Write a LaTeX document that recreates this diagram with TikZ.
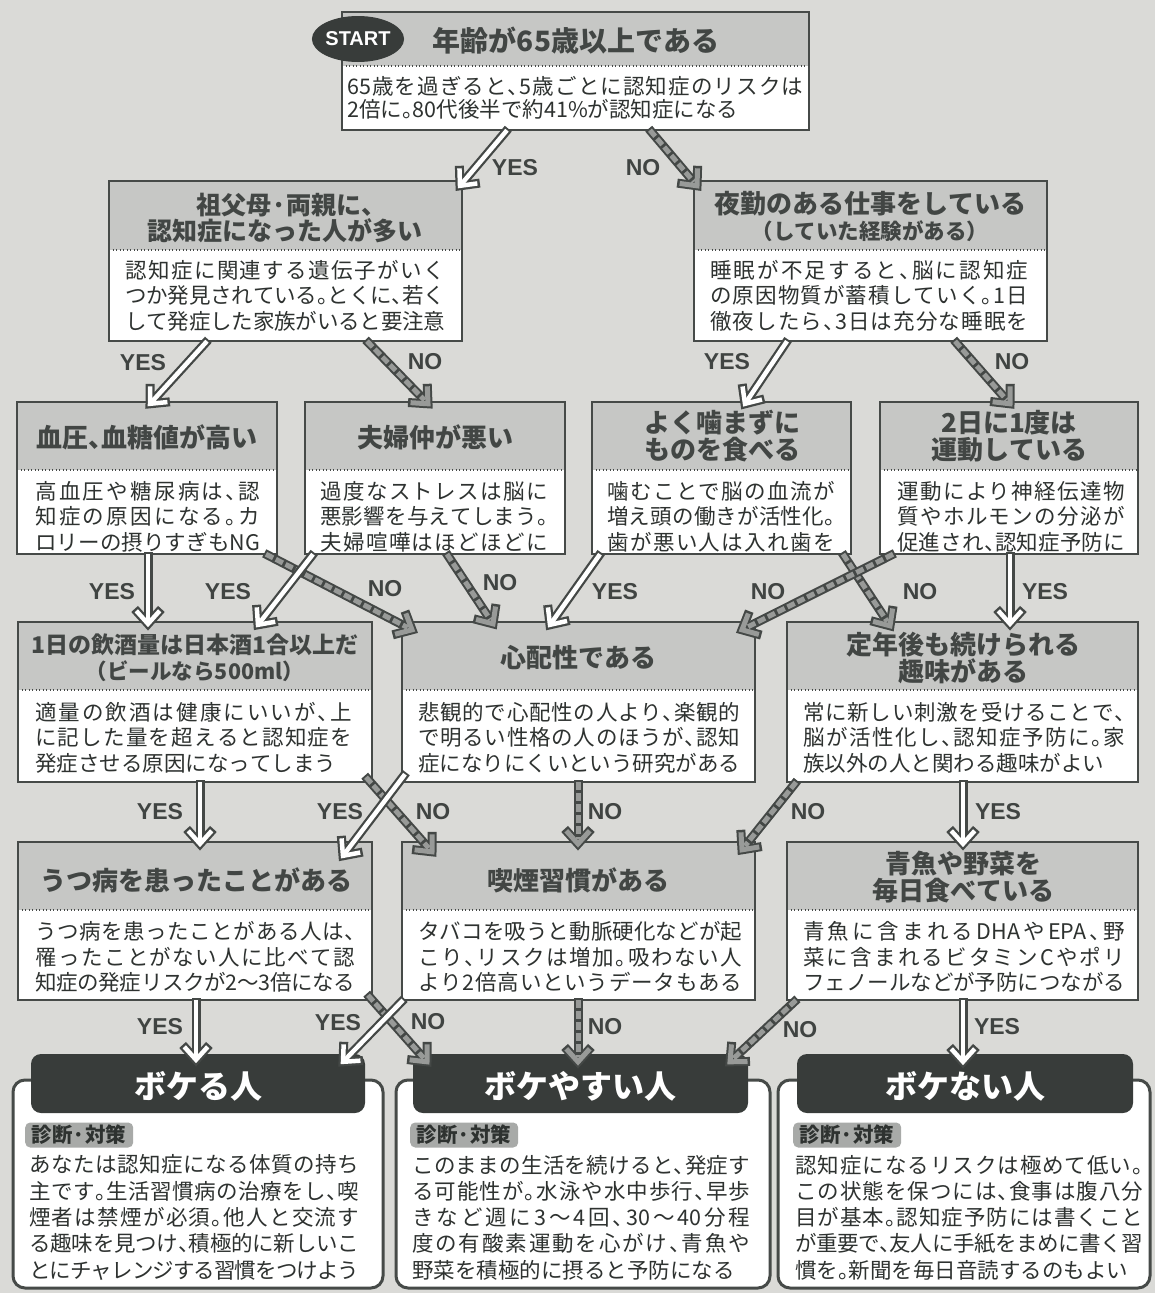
\documentclass[tikz,border=0pt]{standalone}
\usepackage{fontspec}
\usetikzlibrary{calc,fit,shapes.geometric}
\newfontfamily\jp{Noto Sans CJK JP}[RawFeature=+halt]
\newfontfamily\lat{Liberation Sans}
\definecolor{bgc}{RGB}{218,218,215}
\definecolor{hdrc}{RGB}{198,199,197}
\definecolor{inkc}{RGB}{46,50,48}
\definecolor{hdtxt}{RGB}{66,70,68}
\definecolor{framec}{RGB}{70,74,72}
\definecolor{arrdark}{RGB}{68,72,70}
\definecolor{nogray}{RGB}{152,154,152}
\definecolor{darkfill}{RGB}{56,60,58}
\definecolor{tagc}{RGB}{168,170,168}
\definecolor{lblc}{RGB}{64,68,66}
% inter-character glue for justified Japanese lines
\XeTeXinterchartokenstate=1
\newcount\jcnt
\jcnt="3000
\loop
  \XeTeXcharclass\jcnt=7
  \advance\jcnt by 1
\ifnum\jcnt<"3100 \repeat
\jcnt="4E00
\loop
  \XeTeXcharclass\jcnt=7
  \advance\jcnt by 1
\ifnum\jcnt<"A000 \repeat
\jcnt="FF00
\loop
  \XeTeXcharclass\jcnt=7
  \advance\jcnt by 1
\ifnum\jcnt<"FFF0 \repeat
\XeTeXinterchartoks 7 7 = {\hskip 0pt plus 4pt minus 1.5pt\relax}
\XeTeXinterchartoks 0 7 = {\hskip 0pt plus 4pt minus 1.5pt\relax}
\XeTeXinterchartoks 7 0 = {\hskip 0pt plus 4pt minus 1.5pt\relax}
\newcommand\jl[2]{\hbox to #1pt{#2}}
\newcommand\qbox[6]{%
  \node[fit={(#2,#3) (#4,#6)}, inner sep=0pt, fill=white] (#1) {};
  \fill[hdrc] (#2,#3) rectangle (#4,#5);
  \draw[sepline] (#2,#5) -- (#4,#5);
  \draw[qframe] (#1.north west) rectangle (#1.south east);
}
\newcommand\yesarr[3]{%
  \coordinate (#1s) at #2;
  \coordinate (#1e) at #3;
  \draw[arrout, shorten <=-2pt] (#1s) -- (#1e);
  \draw[arrout] ($(#1e)!20pt!42:(#1s)$) -- (#1e) -- ($(#1e)!20pt!-42:(#1s)$);
  \draw[yesin] (#1s) -- (#1e);
  \draw[yesin] ($(#1e)!17.5pt!42:(#1s)$) -- (#1e) -- ($(#1e)!17.5pt!-42:(#1s)$);
}
\newcommand\noarr[3]{%
  \coordinate (#1s) at #2;
  \coordinate (#1e) at #3;
  \draw[arrout, shorten <=-2pt] (#1s) -- (#1e);
  \draw[arrout] ($(#1e)!20pt!42:(#1s)$) -- (#1e) -- ($(#1e)!20pt!-42:(#1s)$);
  \draw[noin] (#1s) -- ($(#1e)!5pt!(#1s)$);
  \draw[nohead] ($(#1e)!17.5pt!42:(#1s)$) -- (#1e) -- ($(#1e)!17.5pt!-42:(#1s)$);
}
\begin{document}
\begin{tikzpicture}[x=1pt,y=-1pt,
  qframe/.style={draw=framec,line width=2.4pt},
  sepline/.style={draw=framec,line width=1.3pt,dash pattern=on 1.3pt off 2.2pt},
  body/.style={anchor=west,align=left,inner sep=0pt,text=inkc,font=\jp\fontsize{21.5}{25.5}\selectfont},
  tbody/.style={body,font=\jp\fontsize{21.5}{23.3}\selectfont},
  rbody/.style={body,font=\jp\fontsize{21.5}{26.3}\selectfont},
  hd/.style={align=center,inner sep=0pt,text=hdtxt,font=\jp\bfseries\fontsize{26}{26.5}\selectfont},
  hdsub/.style={hd,font=\jp\bfseries\fontsize{21.5}{21.5}\selectfont},
  lbl/.style={inner sep=0pt,text=lblc,font=\lat\bfseries\fontsize{23}{23}\selectfont},
  startnode/.style={ellipse,fill=darkfill,text=white,inner sep=0pt,minimum width=84pt,minimum height=46pt,font=\lat\bfseries\fontsize{20}{20}\selectfont},
  resframe/.style={draw=framec,line width=3pt,fill=white,rounded corners=12pt,inner sep=0pt},
  reshd/.style={fill=darkfill,rounded corners=10pt,inner sep=0pt},
  restxt/.style={inner sep=0pt,text=white,font=\jp\bfseries\fontsize{32}{32}\selectfont},
  restag/.style={fill=tagc,rounded corners=5pt,inner sep=0pt,minimum width=108pt,minimum height=25pt,anchor=west,text=inkc,font=\jp\bfseries\fontsize{20.5}{20.5}\selectfont},
  arrout/.style={draw=arrdark,line width=9pt,line join=miter},
  yesin/.style={draw=white,line width=4.5pt,line join=miter},
  noin/.style={draw=nogray,line width=5pt,dash pattern=on 8pt off 3pt},
  nohead/.style={draw=nogray,line width=5pt,line join=miter}
]
\useasboundingbox (0,0) rectangle (1155,1293);
\fill[bgc] (0,0) rectangle (1155,1293);

% ---------- top box
\qbox{q0}{342}{12}{809}{66}{130}
\node[startnode] (start) at (358,39) {START};
\node[hd,font=\jp\bfseries\fontsize{28}{28}\selectfont] (q0h) at (576,41) {年齢が65歳以上である};
\node[tbody] (q0b) at (347,97.5) {\jl{456}{65歳を過ぎると、5歳ごとに認知症のリスクは}\\2倍に。80代後半で約41\%が認知症になる};

% ---------- row 2
\qbox{q1}{109}{181}{462}{250}{341}
\node[hd,font=\jp\bfseries\fontsize{25}{26}\selectfont] (q1h) at (285,218) {祖父母·両親に、\\認知症になった人が多い};
\node[body] (q1b) at (125,295.5) {\jl{320}{認知症に関連する遺伝子がいく}\\\jl{320}{つか発見されている。とくに、若く}\\\jl{320}{して発症した家族がいると要注意}};

\qbox{q2}{694}{181}{1047}{250}{341}
\node[hd] (q2h) at (870,204) {夜勤のある仕事をしている};
\node[hdsub] (q2s) at (870,231) {（していた経験がある）};
\node[body] (q2b) at (710,295.5) {\jl{318}{睡眠が不足すると、脳に認知症}\\\jl{318}{の原因物質が蓄積していく。1日}\\\jl{318}{徹夜したら、3日は充分な睡眠を}};

% ---------- row 3
\qbox{q3}{17}{402}{277}{470}{554}
\node[hd] (q3h) at (147,437) {血圧、血糖値が高い};
\node[body] (q3b) at (35,516.5) {\jl{225}{高血圧や糖尿病は、認}\\\jl{225}{知症の原因になる。カ}\\\jl{225}{ロリーの摂りすぎもNG}};

\qbox{q4}{305}{402}{565}{470}{554}
\node[hd] (q4h) at (435,437) {夫婦仲が悪い};
\node[body] (q4b) at (320,516.5) {\jl{228}{過度なストレスは脳に}\\\jl{228}{悪影響を与えてしまう。}\\\jl{228}{夫婦喧嘩はほどほどに}};

\qbox{q5}{592}{402}{851}{470}{554}
\node[hd] (q5h) at (722,436) {よく噛まずに\\ものを食べる};
\node[body] (q5b) at (607,516.5) {\jl{228}{噛むことで脳の血流が}\\\jl{228}{増え頭の働きが活性化。}\\\jl{228}{歯が悪い人は入れ歯を}};

\qbox{q6}{880}{402}{1138}{470}{554}
\node[hd] (q6h) at (1009,436) {2日に1度は\\運動している};
\node[body] (q6b) at (897,516.5) {\jl{228}{運動により神経伝達物}\\\jl{228}{質やホルモンの分泌が}\\\jl{228}{促進され、認知症予防に}};

% ---------- row 4
\qbox{q7}{18}{622}{372}{690}{782}
\node[hd,font=\jp\bfseries\fontsize{23}{23}\selectfont] (q7h) at (195,645) {1日の飲酒量は日本酒1合以上だ};
\node[hdsub] (q7s) at (195,671) {（ビールなら500ml）};
\node[body] (q7b) at (35,737.5) {\jl{317}{適量の飲酒は健康にいいが、上}\\\jl{317}{に記した量を超えると認知症を}\\発症させる原因になってしまう};

\qbox{q8}{402}{622}{755}{690}{782}
\node[hd] (q8h) at (578,658) {心配性である};
\node[body] (q8b) at (418,737.5) {\jl{322}{悲観的で心配性の人より、楽観的}\\\jl{322}{で明るい性格の人のほうが、認知}\\\jl{322}{症になりにくいという研究がある}};

\qbox{q9}{787}{622}{1138}{690}{782}
\node[hd] (q9h) at (963,658) {定年後も続けられる\\趣味がある};
\node[body] (q9b) at (803,737.5) {\jl{322}{常に新しい刺激を受けることで、}\\\jl{322}{脳が活性化し、認知症予防に。家}\\族以外の人と関わる趣味がよい};

% ---------- row 5
\qbox{q10}{18}{842}{372}{910}{1000}
\node[hd] (q10h) at (196,880) {うつ病を患ったことがある};
\node[body] (q10b) at (35,957) {\jl{320}{うつ病を患ったことがある人は、}\\\jl{320}{罹ったことがない人に比べて認}\\\jl{320}{知症の発症リスクが2〜3倍になる}};

\qbox{q11}{402}{842}{755}{910}{1000}
\node[hd] (q11h) at (578,880) {喫煙習慣がある};
\node[body] (q11b) at (418,957) {\jl{324}{タバコを吸うと動脈硬化などが起}\\\jl{324}{こり、リスクは増加。吸わない人}\\\jl{324}{より2倍高いというデータもある}};

\qbox{q12}{787}{842}{1138}{910}{1000}
\node[hd] (q12h) at (963,877) {青魚や野菜を\\毎日食べている};
\node[body] (q12b) at (803,957) {\jl{322}{青魚に含まれるDHAやEPA、野}\\\jl{322}{菜に含まれるビタミンCやポリ}\\\jl{322}{フェノールなどが予防につながる}};

% ---------- results
\node[resframe, fit={(13,1080) (383,1288)}] (rkf) {};
\node[reshd, fit={(31,1054) (365,1113)}] (rk) {};
\node[restxt] (rkt) at (198,1086) {ボケる人};
\node[restag] (rkg) at (25,1135) {診断·対策};
\node[rbody] (rkb) at (29,1217.5) {\jl{330}{あなたは認知症になる体質の持ち}\\\jl{330}{主です。生活習慣病の治療をし、喫}\\\jl{330}{煙者は禁煙が必須。他人と交流す}\\\jl{330}{る趣味を見つけ、積極的に新しいこ}\\\jl{330}{とにチャレンジする習慣をつけよう}};

\node[resframe, fit={(396,1080) (770,1288)}] (rlf) {};
\node[reshd, fit={(413,1054) (748,1113)}] (rl) {};
\node[restxt] (rlt) at (580,1086) {ボケやすい人};
\node[restag] (rlg) at (410,1135) {診断·対策};
\node[rbody] (rlb) at (412,1217.5) {\jl{338}{このままの生活を続けると、発症す}\\\jl{338}{る可能性が。水泳や水中歩行、早歩}\\\jl{338}{きなど週に3〜4回、30〜40分程}\\\jl{338}{度の有酸素運動を心がけ、青魚や}\\野菜を積極的に摂ると予防になる};

\node[resframe, fit={(778,1080) (1150,1288)}] (rmf) {};
\node[reshd, fit={(797,1054) (1133,1113)}] (rm) {};
\node[restxt] (rmt) at (965,1086) {ボケない人};
\node[restag] (rmg) at (793,1135) {診断·対策};
\node[rbody] (rmb) at (795,1217.5) {\jl{348}{認知症になるリスクは極めて低い。}\\\jl{348}{この状態を保つには、食事は腹八分}\\\jl{348}{目が基本。認知症予防には書くこと}\\\jl{348}{が重要で、友人に手紙をまめに書く習}\\慣を。新聞を毎日音読するのもよい};

% ---------- NO arrows
\noarr{a2}{(650,0 |- q0.south)}{($(697,0 |- q2.north)+(0,5)$)}
\noarr{a4}{(367,0 |- q1.south)}{($(428,0 |- q4.north)+(0,2)$)}
\noarr{a6}{(955,0 |- q2.south)}{($(1010,0 |- q6.north)+(0,2)$)}
\noarr{a9}{(266,0 |- q3.south)}{($(412,0 |- q8.north)+(0,8)$)}
\noarr{a10}{(447,0 |- q4.south)}{($(493,0 |- q8.north)+(0,2)$)}
\noarr{a12}{(843,0 |- q5.south)}{($(890,0 |- q9.north)+(0,4)$)}
\noarr{a13}{(893,0 |- q6.south)}{($(742,0 |- q8.north)+(0,8)$)}
\noarr{a17}{($(366,0 |- q7.south)+(0,-5)$)}{($(432,0 |- q11.north)+(0,10)$)}
\noarr{a18}{(578,0 |- q8.south)}{($(578,0 |- q11.north)+(0,2)$)}
\noarr{a19}{(796,0 |- q9.south)}{($(742,0 |- q11.north)+(0,8)$)}
\noarr{a23}{($(368,0 |- q10.south)+(0,-5)$)}{($(427,0 |- rl.north)+(0,8)$)}
\noarr{a24}{(578,0 |- q11.south)}{($(578,0 |- rl.north)+(0,8)$)}
\noarr{a25}{(796,0 |- q12.south)}{($(730,0 |- rl.north)+(0,8)$)}

% ---------- YES arrows
\yesarr{a1}{(507,0 |- q0.south)}{($(460,0 |- q1.north)+(0,5)$)}
\yesarr{a3}{(207,0 |- q1.south)}{($(150,0 |- q3.north)+(0,2)$)}
\yesarr{a5}{(787,0 |- q2.south)}{($(745,0 |- q5.north)+(0,2)$)}
\yesarr{a7}{(148,0 |- q3.south)}{($(148,0 |- q7.north)+(0,2)$)}
\yesarr{a8}{(313,0 |- q4.south)}{($(258,0 |- q7.north)+(0,3)$)}
\yesarr{a11}{(600,0 |- q5.south)}{($(550,0 |- q8.north)+(0,3)$)}
\yesarr{a14}{(1010,0 |- q6.south)}{($(1010,0 |- q9.north)+(0,2)$)}
\yesarr{a15}{(200,0 |- q7.south)}{($(200,0 |- q10.north)+(0,2)$)}
\yesarr{a16}{($(405,0 |- q8.south)+(0,-8)$)}{($(343,0 |- q10.north)+(0,14)$)}
\yesarr{a20}{(963,0 |- q9.south)}{($(963,0 |- q12.north)+(0,2)$)}
\yesarr{a21}{(196,0 |- q10.south)}{($(196,0 |- rk.north)+(0,6)$)}
\yesarr{a22}{(403,0 |- q11.south)}{($(343,0 |- rk.north)+(0,8)$)}
\yesarr{a26}{(963,0 |- q12.south)}{($(963,0 |- rm.north)+(0,8)$)}

% ---------- labels
\node[lbl] (l1) at (515,168) {YES};
\node[lbl] (l2) at (643,168) {NO};
\node[lbl] (l3) at (143,363) {YES};
\node[lbl] (l4) at (425,362) {NO};
\node[lbl] (l5) at (727,362) {YES};
\node[lbl] (l6) at (1012,362) {NO};
\node[lbl] (l7) at (112,592) {YES};
\node[lbl] (l8) at (228,592) {YES};
\node[lbl] (l9) at (385,589) {NO};
\node[lbl] (l10) at (500,583) {NO};
\node[lbl] (l11) at (615,592) {YES};
\node[lbl] (l12) at (768,592) {NO};
\node[lbl] (l13) at (920,592) {NO};
\node[lbl] (l14) at (1045,592) {YES};
\node[lbl] (l15) at (160,812) {YES};
\node[lbl] (l16) at (340,812) {YES};
\node[lbl] (l17) at (433,812) {NO};
\node[lbl] (l18) at (605,812) {NO};
\node[lbl] (l19) at (808,812) {NO};
\node[lbl] (l20) at (998,812) {YES};
\node[lbl] (l21) at (160,1027) {YES};
\node[lbl] (l22) at (338,1023) {YES};
\node[lbl] (l23) at (428,1022) {NO};
\node[lbl] (l24) at (605,1027) {NO};
\node[lbl] (l25) at (800,1030) {NO};
\node[lbl] (l26) at (997,1027) {YES};
\end{tikzpicture}
\end{document}
